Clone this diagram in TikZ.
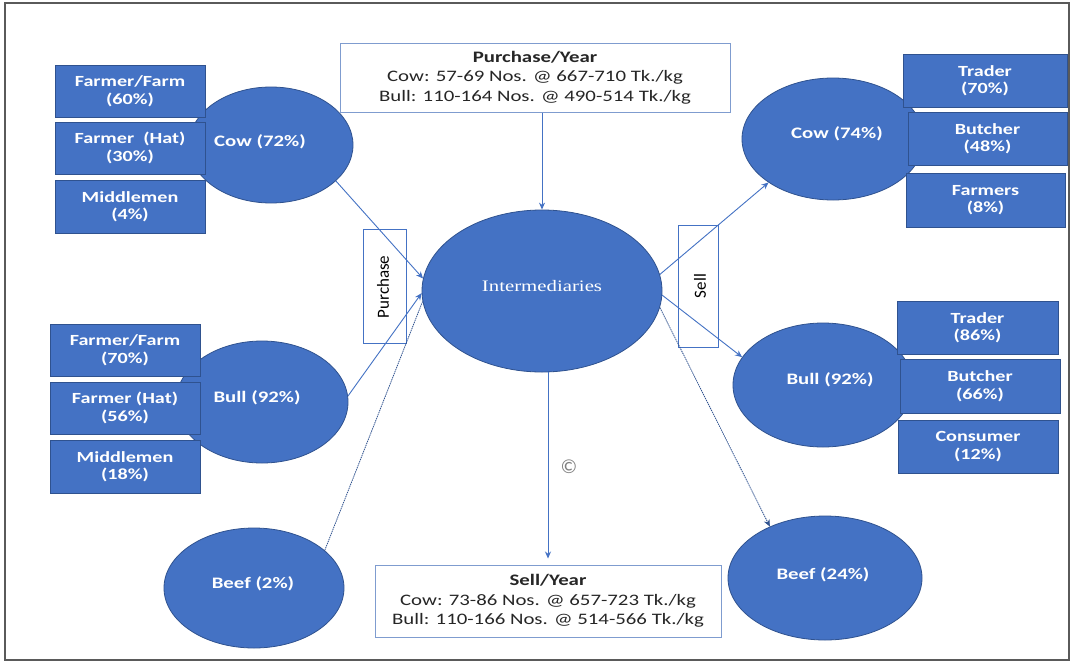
\documentclass[tikz,border=0pt]{standalone}
\usepackage{fontspec}
\setmainfont{Carlito}[FakeStretch=1.3]
\newfontfamily\serifx{Liberation Serif}[FakeStretch=1.3]
\newfontfamily\plainsf{Carlito}
\usetikzlibrary{shapes.geometric,arrows.meta}
\definecolor{obl}{HTML}{4472C4}
\definecolor{obd}{HTML}{2F528F}
\definecolor{frm}{HTML}{5A5A5A}
\definecolor{bxl}{HTML}{7F9CCF}
\definecolor{ink}{HTML}{262626}
\begin{document}
\begin{tikzpicture}[x=1pt,y=-1pt,
  oval/.style={ellipse, draw=obd, line width=0.8pt, fill=obl, inner sep=0pt},
  srcbox/.style={rectangle, draw=obd, line width=0.8pt, fill=obl, text=white, font=\fontsize{15.5}{17.5}\selectfont\bfseries, align=center, inner sep=0pt},
  otxt/.style={text=white, font=\fontsize{16}{19}\selectfont\bfseries, inner sep=0pt},
  infobox/.style={rectangle, draw=bxl, line width=1pt, fill=white, text=ink, align=center, font=\fontsize{16}{19.5}\selectfont, inner sep=0pt},
  sidebox/.style={rectangle, draw=obl, line width=0.9pt, inner sep=0pt},
  sidetxt/.style={text=black, rotate=90, font=\plainsf\fontsize{17}{20}\selectfont, inner sep=0pt},
  flow/.style={draw=obl, line width=0.9pt, -{Stealth[length=7pt,width=6pt]}},
  dflow/.style={draw=obd, line width=0.8pt, dash pattern=on 1.4pt off 0.8pt},
]
\useasboundingbox (0,0) rectangle (1075,664);
\fill[white] (0,0) rectangle (1075,664);
\draw[frm, line width=1.5pt] (5,3) rectangle (1069,660);

% side label boxes
\node[sidebox, minimum width=43pt, minimum height=114pt] (pbox) at (384.5,286) {};
\node[sidetxt] (ptxt) at (383,287) {Purchase};
\node[sidebox, minimum width=40pt, minimum height=122pt] (sbox) at (698,286) {};
\node[sidetxt] (stxt) at (700,286) {Sell};

% ellipses
\node[oval, minimum width=164pt, minimum height=116pt] (cowL) at (271,145) {};
\node[oval, minimum width=172pt, minimum height=122pt] (bullL) at (262,402) {};
\node[oval, minimum width=180pt, minimum height=120pt] (beefL) at (254,588) {};
\node[oval, minimum width=240pt, minimum height=162pt] (inter) at (542,291) {};
\node[oval, minimum width=182pt, minimum height=122pt] (cowR) at (833,139) {};
\node[oval, minimum width=180pt, minimum height=124pt] (bullR) at (823,385) {};
\node[oval, minimum width=194pt, minimum height=124pt] (beefR) at (825,578) {};

\node[otxt] (cowLt) at (260,142) {Cow (72\%)};
\node[otxt] (bullLt) at (257,398) {Bull (92\%)};
\node[otxt] (beefLt) at (253,584) {Beef (2\%)};
\node[text=white, font=\serifx\fontsize{16}{19}\selectfont, inner sep=0pt] (intert) at (542,286) {Intermediaries};
\node[otxt] (cowRt) at (837,134) {Cow (74\%)};
\node[otxt] (bullRt) at (830,380) {Bull (92\%)};
\node[otxt] (beefRt) at (823,575) {Beef (24\%)};

% source boxes left
\node[srcbox, minimum width=150pt, minimum height=52pt] (lb1) at (130,91) {Farmer/Farm\\(60\%)};
\node[srcbox, minimum width=150pt, minimum height=52pt] (lb2) at (130,148) {Farmer\ \ (Hat)\\(30\%)};
\node[srcbox, minimum width=150pt, minimum height=53pt] (lb3) at (130,206.5) {Middlemen\\(4\%)};
\node[srcbox, minimum width=150pt, minimum height=52pt] (lb4) at (125,350) {Farmer/Farm\\(70\%)};
\node[srcbox, minimum width=150pt, minimum height=52pt] (lb5) at (125,408) {Farmer (Hat)\\(56\%)};
\node[srcbox, minimum width=150pt, minimum height=53pt] (lb6) at (125,466.5) {Middlemen\\(18\%)};

% destination boxes right
\node[srcbox, minimum width=164pt, minimum height=53pt] (rb1) at (985,80.5) {Trader\\(70\%)};
\node[srcbox, minimum width=159pt, minimum height=53pt] (rb2) at (987.5,138.5) {Butcher\\(48\%)};
\node[srcbox, minimum width=159pt, minimum height=54pt] (rb3) at (985.5,200) {Farmers\\(8\%)};
\node[srcbox, minimum width=161pt, minimum height=53pt] (rb4) at (977.5,327.5) {Trader\\(86\%)};
\node[srcbox, minimum width=160pt, minimum height=54pt] (rb5) at (980,386) {Butcher\\(66\%)};
\node[srcbox, minimum width=160pt, minimum height=53pt] (rb6) at (978,446.5) {Consumer\\(12\%)};

% info boxes
\node[infobox, minimum width=390pt, minimum height=69pt] (pyear) at (535,77.5)
  {{\bfseries Purchase/Year}\\Cow: 57-69 Nos. @ 667-710 Tk./kg\\Bull: 110-164 Nos. @ 490-514 Tk./kg};
\node[infobox, minimum width=346pt, minimum height=72pt] (syear) at (548,601)
  {{\bfseries Sell/Year}\\Cow: 73-86 Nos. @ 657-723 Tk./kg\\Bull: 110-166 Nos. @ 514-566 Tk./kg};
\node[text=gray, font=\plainsf\fontsize{20}{20}\selectfont, inner sep=0pt] (cmark) at (569,467) {\textcopyright};

% connectors
\draw[flow] (inter.north |- pyear.south) -- (inter.north);
\draw[flow, shorten >=6pt] (syear.north |- inter.south) -- (syear.north);
\draw[flow] (cowL.-29) -- (inter.174);
\draw[flow] (bullL.4) -- (inter.181);
\draw[dflow] (beefL.28) -- (inter.185);
\draw[flow] (inter.8) -- (cowR.214);
\draw[flow] (inter.-2) -- (bullR.161);
\draw[dflow, -{Stealth[length=7pt,width=6pt]}] (inter.-8) -- (beefR.137);
\end{tikzpicture}
\end{document}
